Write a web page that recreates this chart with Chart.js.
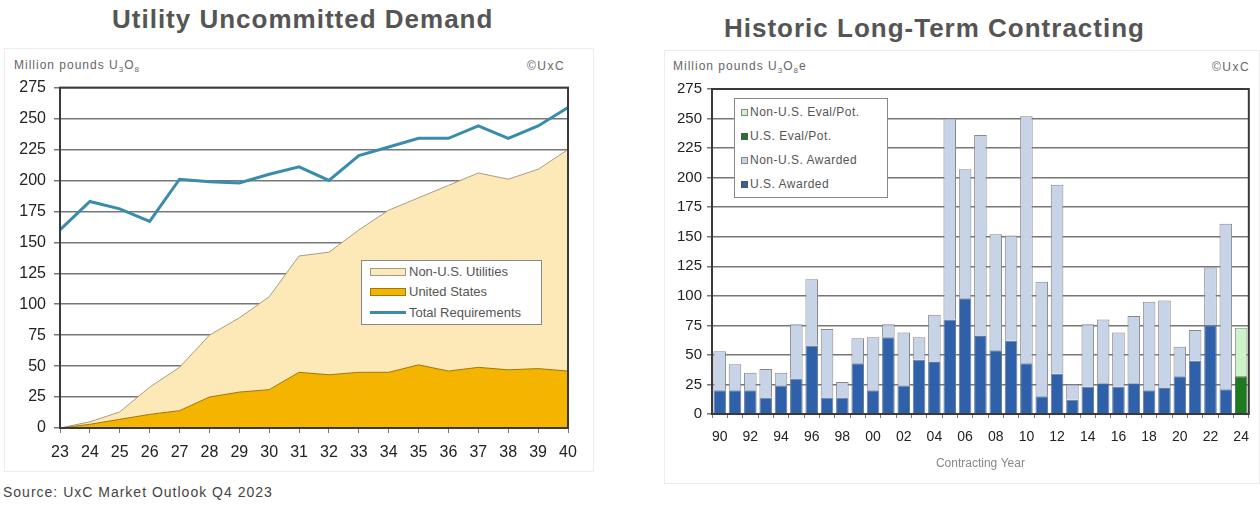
<!DOCTYPE html>
<html>
<head>
<meta charset="utf-8">
<script src="https://cdn.jsdelivr.net/npm/chart.js@4.4.0/dist/chart.umd.min.js"></script>
<style>
  body { margin: 0; background: #fff; font-family: "Liberation Sans", Arial, sans-serif; }
  #page { position: relative; width: 1260px; height: 513px; overflow: hidden; }
  .abs { position: absolute; white-space: nowrap; }
  .title { font-weight: bold; font-size: 26px; letter-spacing: 1px; color: #555; }
  .small { font-size: 12px; letter-spacing: 1px; color: #666; }
  .frame { position: absolute; border: 1px solid #ececec; }
  .legend { position: absolute; background: #fff; border: 1px solid #888; font-size: 13px; color: #555; }
  .legend .row { position: absolute; left: 0; display: flex; align-items: center; }
  .sw { display: inline-block; box-sizing: border-box; }
</style>
</head>
<body>
<div id="page">
  <div class="frame" style="left:4px; top:48px; width:588px; height:422px;"></div>
  <div class="frame" style="left:664px; top:50px; width:594px; height:432px;"></div>

  <div class="abs title" style="left:112px; top:4px;">Utility Uncommitted Demand</div>
  <div class="abs title" style="left:724px; top:13px;">Historic Long-Term Contracting</div>

  <div class="abs small" style="left:14px; top:58px;">Million pounds U<sub style="font-size:8px">3</sub>O<sub style="font-size:8px">8</sub></div>
  <div class="abs small" style="left:527px; top:59px; letter-spacing:1.5px;">©UxC</div>
  <div class="abs small" style="left:673px; top:59px;">Million pounds U<sub style="font-size:8px">3</sub>O<sub style="font-size:8px">8</sub>e</div>
  <div class="abs small" style="left:1212px; top:60px; letter-spacing:1.5px;">©UxC</div>

  <canvas id="demandChart" class="abs" style="left:0; top:70px;" width="600" height="400"></canvas>
  <canvas id="contractChart" class="abs" style="left:660px; top:75px;" width="600" height="410"></canvas>

  <div class="legend" style="left:361px; top:260px; width:179px; height:63px;">
    <div class="row" style="top:3px; left:8px;"><span class="sw" style="width:36px;height:8px;background:#fde8b8;border:1px solid #9a9a8a;"></span><span style="margin-left:3px">Non-U.S. Utilities</span></div>
    <div class="row" style="top:23px; left:8px;"><span class="sw" style="width:36px;height:8px;background:#f5b400;border:1px solid #9a7a10;"></span><span style="margin-left:3px">United States</span></div>
    <div class="row" style="top:44px; left:8px;"><span class="sw" style="width:36px;height:3px;background:#3a8cad;"></span><span style="margin-left:3px">Total Requirements</span></div>
  </div>

  <div class="legend" style="left:734px; top:98px; width:152px; height:98px; font-size:12px; letter-spacing:0.5px;">
    <div class="row" style="top:6px; left:6px;"><span class="sw" style="width:7px;height:7px;background:#cdf3c8;border:1px solid #888;"></span><span style="margin-left:2px">Non-U.S. Eval/Pot.</span></div>
    <div class="row" style="top:30px; left:6px;"><span class="sw" style="width:7px;height:7px;background:#1e7a1e;border:1px solid #555;"></span><span style="margin-left:2px">U.S. Eval/Pot.</span></div>
    <div class="row" style="top:54px; left:6px;"><span class="sw" style="width:7px;height:7px;background:#c7d3e6;border:1px solid #888;"></span><span style="margin-left:2px">Non-U.S. Awarded</span></div>
    <div class="row" style="top:78px; left:6px;"><span class="sw" style="width:7px;height:7px;background:#2f61aa;border:1px solid #555;"></span><span style="margin-left:2px">U.S. Awarded</span></div>
  </div>

  <div class="abs" style="left:3px; top:484px; font-size:14px; letter-spacing:1px; color:#444;">Source: UxC Market Outlook Q4 2023</div>
</div>

<script>
// left chart: uncommitted demand, million lbs U3O8
var demandYears = ['23','24','25','26','27','28','29','30','31','32','33','34','35','36','37','38','39','40'];
var usDemand    = [0, 3, 7, 11, 14, 25, 29, 31, 45, 43, 45, 45, 51, 46, 49, 47, 48, 46];
var nonUsDemand = [0, 2, 6, 22, 35, 50, 60, 75, 94, 99, 115, 131, 135, 150, 157, 154, 161, 179];
var totalReq    = [160, 183, 177, 167, 201, 199, 198, 205, 211, 200, 220, 227, 234, 234, 244, 234, 244, 259];

// right chart: long-term contracting by year
var contractYears = ['90','91','92','93','94','95','96','97','98','99','00','01','02','03','04','05','06',
                     '07','08','09','10','11','12','13','14','15','16','17','18','19','20','21','22','23','24'];
var usAwarded    = [20, 20, 20, 14, 24, 30, 58, 14, 14, 43, 20, 65, 24, 46, 44, 80, 98,
                    66, 54, 62, 43, 15, 34, 12, 23, 26, 23, 26, 20, 22, 32, 45, 75, 21, 0];
var nonUsAwarded = [33, 22, 15, 24, 11, 46, 56, 58, 13, 21, 45, 11, 45, 19, 40, 170, 109,
                    170, 98, 89, 209, 97, 160, 13, 53, 54, 46, 57, 75, 74, 25, 26, 49, 140, 0];
var usEval       = [0, 0, 0, 0, 0, 0, 0, 0, 0, 0, 0, 0, 0, 0, 0, 0, 0,
                    0, 0, 0, 0, 0, 0, 0, 0, 0, 0, 0, 0, 0, 0, 0, 0, 0, 32];
var nonUsEval    = [0, 0, 0, 0, 0, 0, 0, 0, 0, 0, 0, 0, 0, 0, 0, 0, 0,
                    0, 0, 0, 0, 0, 0, 0, 0, 0, 0, 0, 0, 0, 0, 0, 0, 0, 41];

var FONT = '"Liberation Sans", Arial, sans-serif';

// box around the plot area
var plotBorder = {
    id: 'plotBorder',
    afterDatasetsDraw: function (chart) {
        var ctx = chart.ctx, a = chart.chartArea;
        ctx.save();
        ctx.strokeStyle = '#3a3a3a';
        ctx.lineWidth = 2;
        ctx.strokeRect(a.left, a.top, a.right - a.left, a.bottom - a.top);
        ctx.restore();
    }
};

new Chart(document.getElementById('demandChart'), {
    type: 'line',
    data: {
        labels: demandYears,
        datasets: [
            { label: 'Total Requirements', data: totalReq, stack: 'total', borderColor: '#3a8cad',
              borderWidth: 3, pointRadius: 0, fill: false, tension: 0 },
            { label: 'United States', data: usDemand, stack: 'demand', borderColor: '#9a7a10',
              backgroundColor: '#f5b400', borderWidth: 1, pointRadius: 0, fill: 'origin', tension: 0 },
            { label: 'Non-U.S. Utilities', data: nonUsDemand, stack: 'demand', borderColor: '#a89e84',
              backgroundColor: '#fde8b8', borderWidth: 1, pointRadius: 0, fill: '-1', tension: 0 }
        ]
    },
    options: {
        responsive: false,
        devicePixelRatio: 1,
        animation: false,
        layout: { padding: { top: 14, right: 32, left: 0, bottom: 0 } },
        plugins: { legend: { display: false }, tooltip: { enabled: false } },
        scales: {
            x: {
                offset: false,
                grid: { display: true, drawOnChartArea: false, color: '#777', tickLength: 5 },
                border: { color: '#3a3a3a', width: 2 },
                ticks: { color: '#222', font: { family: FONT, size: 16 }, padding: 10, maxRotation: 0, autoSkip: false },
                afterFit: function (s) { s.height = 42; }
            },
            y: {
                stacked: true,
                min: 0, max: 275,
                grid: { color: '#777', lineWidth: 1.5, tickLength: 6 },
                border: { color: '#3a3a3a', width: 2 },
                ticks: { stepSize: 25, color: '#222', font: { family: FONT, size: 16 }, padding: 8 },
                afterFit: function (s) { s.width = 60; }
            }
        }
    },
    plugins: [plotBorder]
});

new Chart(document.getElementById('contractChart'), {
    type: 'bar',
    data: {
        labels: contractYears,
        datasets: [
            { label: 'U.S. Awarded', data: usAwarded, backgroundColor: '#2f61aa', borderColor: '#6a7a90', borderWidth: 1 },
            { label: 'Non-U.S. Awarded', data: nonUsAwarded, backgroundColor: '#c7d3e6', borderColor: '#888', borderWidth: 1 },
            { label: 'U.S. Eval/Pot.', data: usEval, backgroundColor: '#1e7a1e', borderColor: '#555', borderWidth: 1 },
            { label: 'Non-U.S. Eval/Pot.', data: nonUsEval, backgroundColor: '#cdf3c8', borderColor: '#888', borderWidth: 1 }
        ]
    },
    options: {
        responsive: false,
        devicePixelRatio: 1,
        animation: false,
        layout: { padding: { top: 13, right: 5, left: 0, bottom: 0 } },
        datasets: { bar: { barPercentage: 0.82, categoryPercentage: 1 } },
        plugins: { legend: { display: false }, tooltip: { enabled: false } },
        scales: {
            x: {
                stacked: true,
                grid: { display: true, drawOnChartArea: false, color: '#777', tickLength: 4 },
                border: { color: '#3a3a3a', width: 2 },
                ticks: {
                    color: '#222', font: { family: FONT, size: 14 }, padding: 11, maxRotation: 0, autoSkip: false,
                    callback: function (v, i) { return i % 2 === 0 ? contractYears[i] : ''; }
                },
                title: { display: true, text: 'Contracting Year', color: '#888', font: { family: FONT, size: 12 },
                         padding: { top: 0, bottom: 14 } },
                afterFit: function (s) { s.height = 71; }
            },
            y: {
                stacked: true,
                min: 0, max: 275,
                grid: { color: '#777', lineWidth: 1.5, tickLength: 5 },
                border: { color: '#3a3a3a', width: 2 },
                ticks: { stepSize: 25, color: '#222', font: { family: FONT, size: 15 }, padding: 5 },
                afterFit: function (s) { s.width = 52; }
            }
        }
    },
    plugins: [plotBorder]
});
</script>
</body>
</html>
